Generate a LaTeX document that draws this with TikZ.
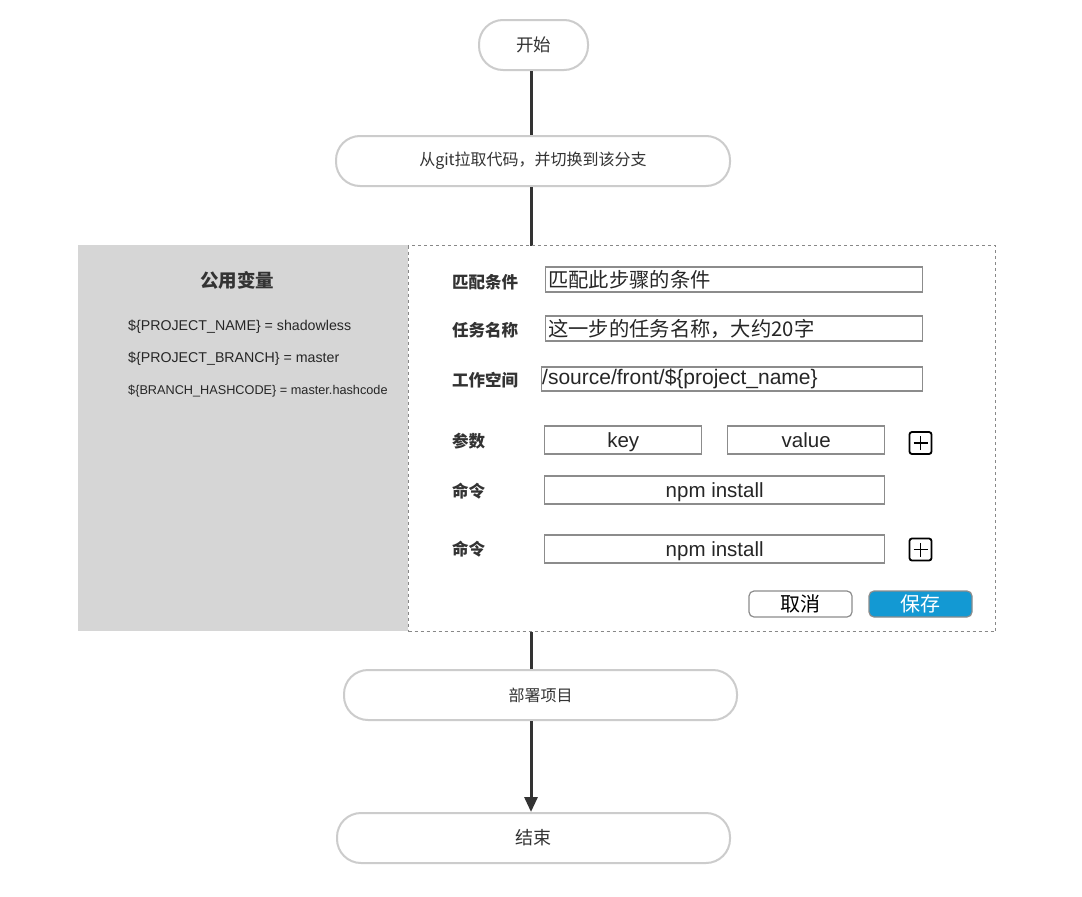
\documentclass[tikz,border=0pt]{standalone}
\usepackage{fontspec}
\setmainfont{Liberation Sans}
\newfontfamily\cjk{Noto Sans CJK SC}
\usetikzlibrary{arrows.meta}
\definecolor{linec}{HTML}{333333}
\definecolor{flowborder}{HTML}{CCCCCC}
\definecolor{panelgray}{HTML}{D6D6D6}
\definecolor{dashc}{HTML}{888888}
\definecolor{inborder}{HTML}{8C8C8C}
\definecolor{savefill}{HTML}{1399D3}
\definecolor{txt}{HTML}{333333}
\begin{document}
\begin{tikzpicture}[x=1pt,y=-1pt,
  flowbox/.style={draw=flowborder,line width=2pt,rounded corners=24pt,fill=white,
    minimum height=50pt,text=txt,inner sep=0pt},
  conn/.style={draw=linec,line width=3pt},
  inbox/.style={draw=inborder,line width=1.4pt,fill=white,minimum height=25pt,inner sep=0pt},
  wordbox/.style={inbox,minimum height=28pt,anchor=west,font=\fontsize{20.5}{23}\selectfont,
    text height=15pt,text depth=1pt,text=black!85},
  fieldlbl/.style={anchor=west,font=\cjk\bfseries\fontsize{16.5}{19}\selectfont,text=txt,inner sep=0pt},
  intext/.style={anchor=west,font=\fontsize{21}{24}\selectfont,text=black!85,inner sep=0pt},
  varline/.style={anchor=west,font=\fontsize{14.2}{16}\selectfont,text=black!85,inner sep=0pt},
  plusbox/.style={draw=black,line width=1.8pt,rounded corners=2.5pt,minimum width=22pt,minimum height=22pt,inner sep=0pt},
  btn/.style={draw=inborder,line width=1.2pt,rounded corners=5pt,minimum width=103pt,minimum height=26pt,inner sep=0pt,
    font=\cjk\fontsize{20}{23}\selectfont}
]
\useasboundingbox (0,0) rectangle (1082,897);
\fill[white] (0,0) rectangle (1082,897);

% flow steps
\node[flowbox,minimum width=109pt,font=\cjk\fontsize{17.5}{20}\selectfont] (start) at (533.5,45) {开始};
\node[flowbox,minimum width=394pt,font=\cjk\fontsize{16}{19}\selectfont] (fetch) at (533,161) {从git拉取代码，并切换到该分支};
\node[flowbox,minimum width=393pt,font=\cjk\fontsize{16}{19}\selectfont] (deploy) at (540.5,695) {部署项目};
\node[flowbox,minimum width=393pt,font=\cjk\fontsize{18}{21}\selectfont] (finish) at (533.5,838) {结束};

\coordinate (axis) at (531,0);
\draw[conn] (axis |- start.south) -- (axis |- fetch.north);
\draw[conn] (axis |- fetch.south) -- (axis |- deploy.north);
\draw[conn,-{Triangle[length=15pt,width=13pt]}] (axis |- deploy.south) -- (axis |- finish.north);

% shared variables panel
\node[fill=panelgray,minimum width=330pt,minimum height=386pt,anchor=north west,inner sep=0pt] (vars) at (78,245) {};
\node[font=\cjk\bfseries\fontsize{18.5}{21}\selectfont,text=txt] (varstitle) at (237,280) {公用变量};
\node[varline] (v1) at (128,327) {\$\{PROJECT\_NAME\} = shadowless};
\node[varline] (v2) at (128,359) {\$\{PROJECT\_BRANCH\} = master};
\node[varline,font=\fontsize{12.7}{15}\selectfont] (v3) at (128,391) {\$\{BRANCH\_HASHCODE\} = master.hashcode};

% step editor panel
\node[draw=dashc,dashed,line width=1pt,fill=white,minimum width=587pt,minimum height=386pt,anchor=north west,inner sep=0pt] (editor) at (408,245) {};

\node[fieldlbl] (l1) at (452,282) {匹配条件};
\node[fieldlbl] (l2) at (452,330) {任务名称};
\node[fieldlbl] (l3) at (452,380) {工作空间};
\node[fieldlbl] (l4) at (452,441) {参数};
\node[fieldlbl] (l5) at (452,491) {命令};
\node[fieldlbl] (l6) at (452,549) {命令};

\node[inbox,minimum width=377pt,anchor=west] (f1) at (545,279.5) {};
\node[intext,font=\cjk\fontsize{20.3}{23}\selectfont] at ([xshift=3pt]f1.west) {匹配此步骤的条件};
\node[inbox,minimum width=377pt,anchor=west] (f2) at (545,328.5) {};
\node[intext,font=\cjk\fontsize{20.3}{23}\selectfont] at ([xshift=3pt]f2.west) {这一步的任务名称，大约20字};
\node[inbox,minimum width=381pt,minimum height=24pt,anchor=west] (f3) at (541,379) {};
\node[intext] at ([xshift=1pt]f3.west) {/source/front/\$\{project\_name\}};

\node[wordbox,minimum width=157pt] (fkey) at (544,440) {key};
\node[wordbox,minimum width=157pt] (fval) at (727,440) {value};
\node[plusbox] (addA) at (920.5,443) {};
\draw[line width=1.8pt] ([xshift=-7pt]addA.center) -- ([xshift=7pt]addA.center);
\draw[line width=1.8pt] ([yshift=-7pt]addA.center) -- ([yshift=7pt]addA.center);

\node[wordbox,minimum width=340pt] (cmd1) at (544,490) {npm install};
\node[wordbox,minimum width=340pt] (cmd2) at (544,549) {npm install};
\node[plusbox] (addB) at (920.5,549.5) {};
\draw[line width=1.8pt] ([xshift=-7pt]addB.center) -- ([xshift=7pt]addB.center);
\draw[line width=1.8pt] ([yshift=-7pt]addB.center) -- ([yshift=7pt]addB.center);

\node[btn,fill=white,text=black] (cancel) at (800.5,604) {取消};
\node[btn,fill=savefill,text=white] (save) at (920.5,604) {保存};
\end{tikzpicture}
\end{document}
